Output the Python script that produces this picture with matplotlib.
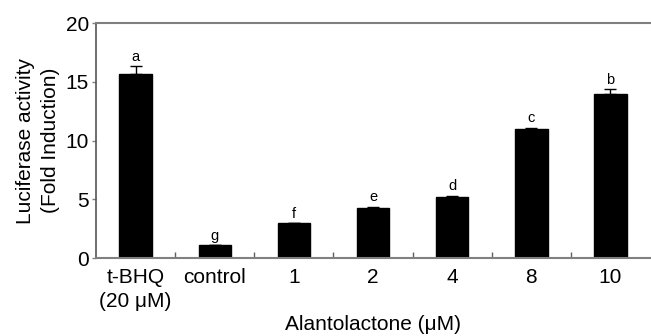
import matplotlib
matplotlib.use("Agg")
import matplotlib.pyplot as plt
import numpy as np

categories = ["t-BHQ\n(20 μM)", "control", "1", "2", "4", "8", "10"]
values = [15.7, 1.1, 2.95, 4.28, 5.22, 10.98, 14.0]
errors = [0.6, 0.0, 0.0, 0.1, 0.1, 0.1, 0.35]
letters = ["a", "g", "f", "e", "d", "c", "b"]
yticks = [0, 5, 10, 15, 20]

plt.rcParams['font.family'] = ['Liberation Sans', 'DejaVu Sans']

fig = plt.figure(figsize=(6.51, 3.36), dpi=100)
ax = fig.add_axes([0.1475, 0.232, 0.851, 0.6995])

x = np.arange(len(categories))
ax.bar(x, values, width=0.41, color="black", edgecolor="black")
ax.errorbar(x, values, yerr=[np.zeros(len(errors)), errors], fmt="none",
            ecolor="black", elinewidth=1.0, capsize=4.5, capthick=1.0)
for xi, v, e, l in zip(x, values, errors, letters):
    ax.text(xi, v + e + 0.2, l, ha="center", va="bottom", fontsize=10.5)

ax.set_xlim(-0.5, len(categories) - 0.5)
ax.set_ylim(0, 20)
ax.set_yticks(yticks)
ax.set_xticks(x)
ax.set_xticklabels(categories, fontsize=15, linespacing=1.35)
ax.tick_params(axis="x", length=0, pad=7)
ax.tick_params(axis="y", length=3, width=1, color="#808080", labelsize=15, pad=2)
ax.set_xticks(np.arange(0.5, len(categories) - 1, 1.0), minor=True)
ax.tick_params(axis="x", which="minor", direction="in", length=4, width=1, color="#606060")

for s in ["left", "bottom", "top"]:
    ax.spines[s].set_color("#808080")
    ax.spines[s].set_linewidth(1.5)
ax.spines["left"].set_color("#555555")
ax.spines["left"].set_linewidth(1.2)
ax.spines["right"].set_visible(False)

ax.set_ylabel("Luciferase activity\n(Fold Induction)", fontsize=15, linespacing=1.4, labelpad=4)
ax.set_xlabel("Alantolactone (μM)", fontsize=15, labelpad=3)

fig.savefig("out.png", dpi=100)
